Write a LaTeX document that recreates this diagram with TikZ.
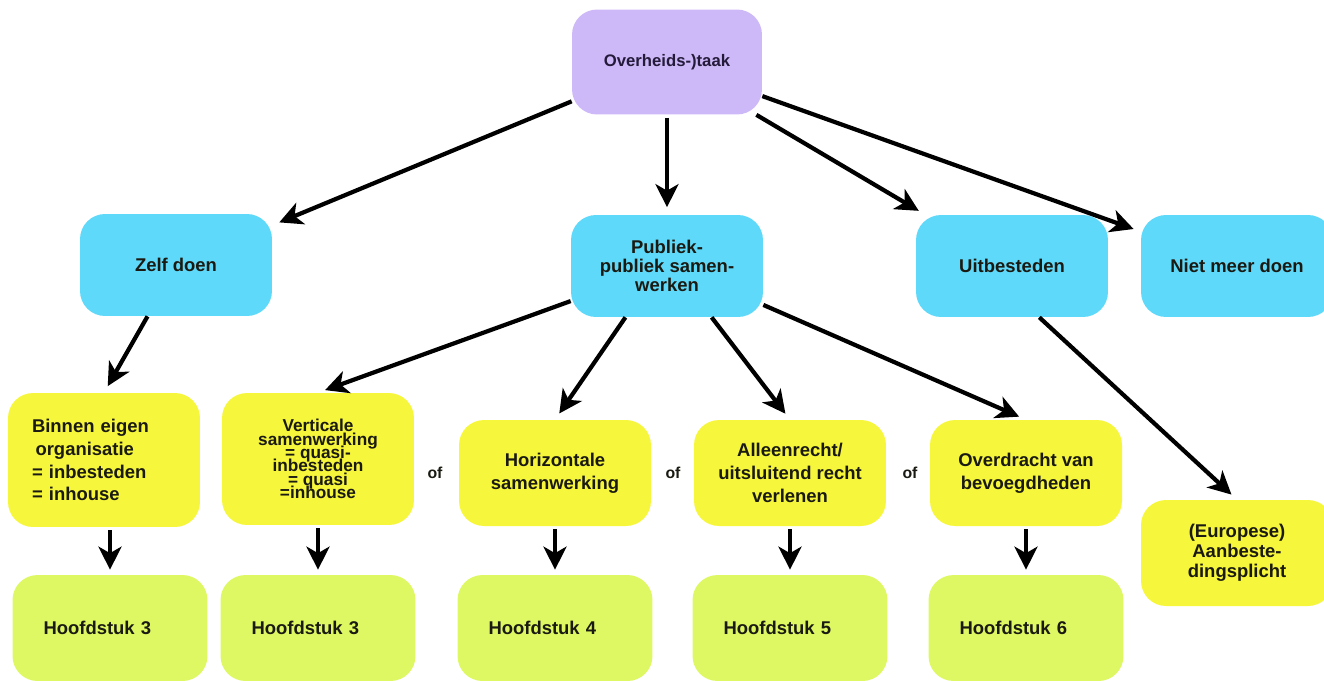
\documentclass[tikz,border=0pt]{standalone}
\usepackage{fontspec}
\setmainfont{Liberation Sans}
\usetikzlibrary{arrows.meta}
\definecolor{taakpaars}{HTML}{CDB9F8}
\definecolor{keuzeblauw}{HTML}{5FD9F9}
\definecolor{vormgeel}{HTML}{F6F63C}
\definecolor{hfdgroen}{HTML}{DDF862}
\definecolor{tekstdonker}{HTML}{1A1A12}
\definecolor{taaktekst}{HTML}{241A3A}
\newcommand{\dichtopeen}{\lineskiplimit=-20pt\relax}
\tikzset{
	blok/.style = {
		shape=rectangle,
		rounded corners=0.5cm,
		minimum width=3.84cm,
		minimum height=2.12cm,
		align=center,
		font=\bfseries\fontsize{10.5}{13}\selectfont,
		text=tekstdonker
	},
	taak/.style = {blok, fill=taakpaars, minimum width=3.8cm, minimum height=2.1cm,
		font=\bfseries\fontsize{9.5}{11}\selectfont, text=taaktekst},
	keuze/.style = {blok, fill=keuzeblauw, minimum height=2.04cm},
	vorm/.style = {blok, fill=vormgeel},
	hoofdstuk/.style = {blok, fill=hfdgroen, align=left, text width=2.66cm, inner xsep=0.62cm},
	pijl/.style = {-{Stealth[length=0.46cm,width=0.46cm,inset=0.13cm]}, line width=2.4pt, shorten >=0.15cm},
	ofwoord/.style = {font=\bfseries\fontsize{9}{11}\selectfont, text=tekstdonker}
}
\begin{document}
\begin{tikzpicture}[x=0.02cm, y=-0.02cm]
	\useasboundingbox (0,0) rectangle (1324,680);
	\node[taak] (taak) at (667,62) {Overheids-)taak};
	\node[keuze] (zelf) at (176,265) {Zelf doen};
	\node[keuze, font=\bfseries\fontsize{10.5}{11}\selectfont] (pub) at (667,266) {Publiek-\\publiek samen-\\werken};
	\node[keuze] (uit) at (1012,266) {Uitbesteden};
	\node[keuze] (niet) at (1237,266) {Niet meer doen};
	\node[vorm, minimum height=2.68cm, align=left, text width=2.88cm, inner xsep=0.48cm] (binnen) at (104,460)
		{Binnen eigen\\\hspace{2pt}organisatie\\= inbesteden\\= inhouse};
	\node[vorm, minimum height=2.64cm, font={\bfseries\fontsize{9.8}{7.6}\selectfont\dichtopeen}] (vert) at (318,459)
		{Verticale\\samenwerking\\= quasi-\\inbesteden\\= quasi\\=inhouse};
	\node[vorm] (hor) at (555,473) {Horizontale\\samenwerking};
	\node[vorm] (alleen) at (790,473) {Alleenrecht/\\uitsluitend recht\\verlenen};
	\node[vorm] (over) at (1026,473) {Overdracht van\\bevoegdheden};
	\node[vorm, font=\bfseries\fontsize{10.5}{11.5}\selectfont] (eur) at (1237,553) {(Europese)\\Aanbeste-\\dingsplicht};
	\node[ofwoord] (of1) at (435,473) {of};
	\node[ofwoord] (of2) at (673,473) {of};
	\node[ofwoord] (of3) at (910,473) {of};
	\node[hoofdstuk] (hfda) at (110,628) {Hoofdstuk 3};
	\node[hoofdstuk] (hfdb) at (318,628) {Hoofdstuk 3};
	\node[hoofdstuk] (hfdc) at (555,628) {Hoofdstuk 4};
	\node[hoofdstuk] (hfdd) at (790,628) {Hoofdstuk 5};
	\node[hoofdstuk] (hfde) at (1026,628) {Hoofdstuk 6};
	\draw[pijl] (taak) -- (zelf);
	\draw[pijl, shorten <=0.06cm] (taak.south) -- (pub.north);
	\draw[pijl] (taak) -- (uit);
	\draw[pijl] (taak) -- (niet);
	\draw[pijl] (zelf.241) -- (binnen.north);
	\draw[pijl] (pub.200) -- (vert.north);
	\draw[pijl] (pub.231) -- (hor.north);
	\draw[pijl] (pub.311) -- (alleen.north);
	\draw[pijl] (pub.338) -- (over.north);
	\draw[pijl] (uit.298) -- (eur.north);
	\foreach \van/\naar in {binnen/hfda, vert/hfdb, hor/hfdc, alleen/hfdd, over/hfde}
		\draw[pijl, shorten <=0.06cm, shorten >=0.1cm] (\naar.north |- \van.south) -- (\naar.north);
\end{tikzpicture}
\end{document}
